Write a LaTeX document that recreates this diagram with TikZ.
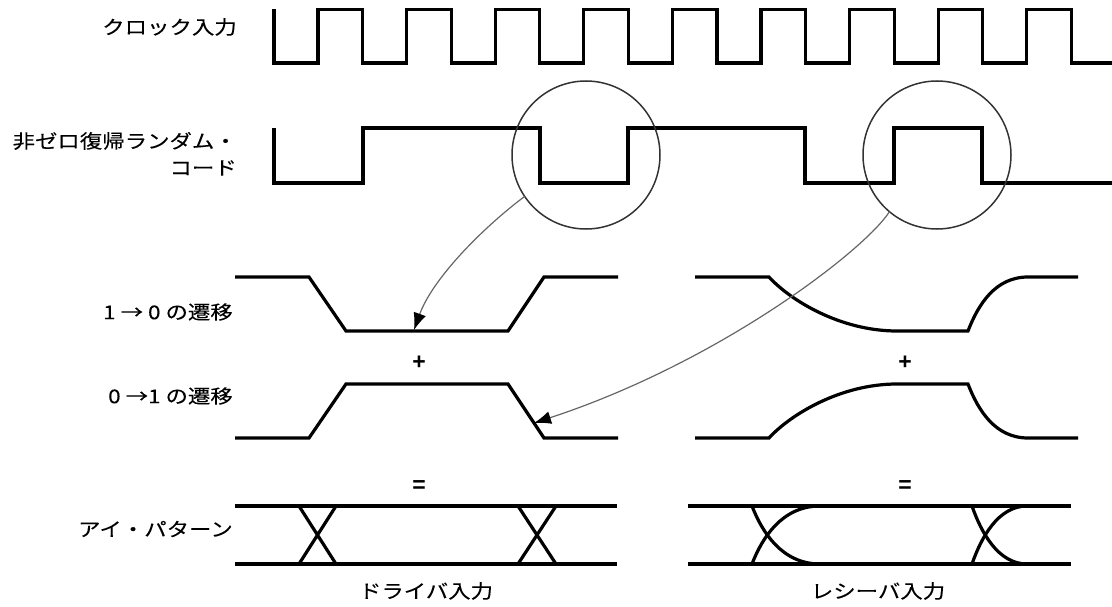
\documentclass[tikz,border=0pt]{standalone}
\usepackage{fontspec}
\setmainfont{Noto Sans CJK JP}[FakeStretch=1.18,FakeBold=0.12]
\newfontfamily\opfont{Liberation Sans}
\usetikzlibrary{arrows.meta}

\begin{document}
\begin{tikzpicture}[x=1pt,y=-1pt,
  wave/.style={line width=3.2pt, line join=miter},
  ring/.style={draw=black!80, line width=1.5pt, circle, minimum size=148pt, inner sep=0pt, outer sep=0pt},
  pointer/.style={draw=black!60, line width=1.2pt, -{Latex[length=17pt,width=13pt,black]}},
  lbl/.style={font=\fontsize{19}{22}\selectfont, inner sep=0pt, anchor=east},
  caption/.style={font=\fontsize{19}{22}\selectfont, inner sep=0pt},
  op/.style={font=\opfont\bfseries\fontsize{23}{26}\selectfont, inner sep=0pt}]

\useasboundingbox (0,0) rectangle (1112,607);

% clock input
\draw[wave] (274,9.5) -- (274,63)
  \foreach \k in {0,...,8} {
    -- ({318+88.6*\k},63) -- ({318+88.6*\k},9.5)
    -- ({362.5+88.6*\k},9.5) -- ({362.5+88.6*\k},63) }
  -- (1112,63);

% NRZ random code
\draw[wave] (274,128) -- (274,183) -- (363,183) -- (363,128) -- (540,128)
  -- (540,183) -- (628,183) -- (628,128) -- (805,128) -- (805,183)
  -- (894,183) -- (894,128) -- (982,128) -- (982,183) -- (1112,183);

% driver-side transitions
\draw[wave] (235,277) -- (309,277) -- (346,331) -- (508,331) -- (544,277) -- (618,277);
\draw[wave] (235,438) -- (309,438) -- (346,384) -- (508,384) -- (544,438) -- (618,438);

% receiver-side transitions
\draw[wave] (695,277) -- (769,277) .. controls (790,300) and (840,331) .. (897,331)
  -- (968,331) .. controls (978,305) and (995,277) .. (1028,277) -- (1078,277);
\draw[wave] (695,438) -- (769,438) .. controls (790,415) and (840,384) .. (897,384)
  -- (968,384) .. controls (978,410) and (995,438) .. (1028,438) -- (1078,438);

% driver eye
\draw[wave] (235,506) -- (617,506);
\draw[wave] (235,564) -- (617,564);
\draw[wave] (299,506) -- (336,564) (336,506) -- (299,564);
\draw[wave] (518,506) -- (556,564) (556,506) -- (518,564);

% receiver eye
\draw[wave] (688,506) -- (1071,506);
\draw[wave] (688,564) -- (1071,564);
\draw[wave] (752,506) .. controls (762,532) and (782,564) .. (820,564);
\draw[wave] (752,564) .. controls (762,538) and (782,506) .. (820,506);
\draw[wave] (972,506) .. controls (981,532) and (998,564) .. (1027,564);
\draw[wave] (972,564) .. controls (981,538) and (998,506) .. (1027,506);

% magnifier circles and pointers
\node[ring] (zoomA) at (586,155) {};
\node[ring] (zoomB) at (937,155) {};
\coordinate (tipA) at (414,330);
\coordinate (tipB) at (534,423);
\draw[pointer] (zoomA.214) .. controls (480,230) and (432,280) .. (tipA);
\draw[pointer] (zoomB.230) .. controls (865,250) and (720,362) .. (tipB);

% labels
\node[lbl] (clkL) at (237,27) {クロック入力};
\node[lbl] (nrzL1) at (237,141) {非ゼロ復帰ランダム・};
\node[lbl] (nrzL2) at (237,168) {コード};
\node[lbl] (fallL) at (233,312) {1 → 0 の遷移};
\node[lbl] (riseL) at (233,396) {0 →1 の遷移};
\node[lbl] (eyeL) at (233,529) {アイ・パターン};
\node[caption] (drvL) at (426,591) {ドライバ入力};
\node[caption] (rcvL) at (878,591) {レシーバ入力};

% operators
\node[op] (plusA) at (419,363) {+};
\node[op] (plusB) at (905,363) {+};
\node[op] (eqA) at (419,487) {=};
\node[op] (eqB) at (905,487) {=};
\end{tikzpicture}
\end{document}
